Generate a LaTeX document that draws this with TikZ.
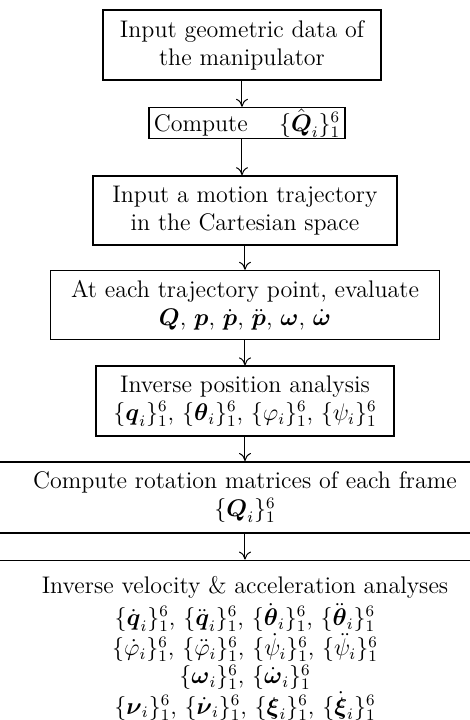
\documentclass[tikz,border=0pt]{standalone}
\usepackage{amsmath,amssymb}
\usepackage{tikz}
\usetikzlibrary{positioning,arrows.meta}

\begin{document}
\begin{tikzpicture}[
  node distance=12.5pt,
  box/.style={draw,line width=0.8pt,inner sep=4pt,font=\large,align=center,minimum height=35pt},
  arr/.style={-{Computer Modern Rightarrow[length=4pt,width=6pt]},line width=0.5pt}]
  \useasboundingbox (-121pt,22.5pt) rectangle (114pt,-337.5pt);
  \node[box,minimum width=139pt] (geom) {Input geometric data of\\the manipulator};
  \node[box,below=13pt of geom,xshift=2.5pt,minimum width=98pt,minimum height=15pt,inner xsep=2pt,inner ysep=0.5pt] (qhat)
    {Compute\hspace{1.3em}$\{\hat{\boldsymbol{Q}}_i\}_1^6$};
  \node[box,below=18pt of qhat.south,anchor=north,xshift=-1pt,minimum width=152pt,minimum height=34.5pt] (traj)
    {Input a motion trajectory\\in the Cartesian space};
  \node[box,below=12pt of traj,minimum width=194.5pt,minimum height=34.5pt] (eval)
    {At each trajectory point, evaluate\\
     $\boldsymbol{Q}$, $\boldsymbol{p}$, $\dot{\boldsymbol{p}}$, $\ddot{\boldsymbol{p}}$, $\boldsymbol{\omega}$, $\dot{\boldsymbol{\omega}}$};
  \node[box,below=of eval,minimum width=149pt] (ipa)
    {Inverse position analysis\\
     $\{\boldsymbol{q}_i\}_1^6$, $\{\boldsymbol{\theta}_i\}_1^6$, $\{\varphi_i\}_1^6$, $\{\psi_i\}_1^6$};
  \node[box,below=12pt of ipa,minimum width=250pt,minimum height=35.5pt] (rot)
    {Compute rotation matrices of each frame\\$\{\boldsymbol{Q}_i\}_1^6$};
  \node[box,below=13pt of rot,minimum width=250pt,inner ysep=8pt] (iva)
    {Inverse velocity \& acceleration analyses\\[2pt]
     $\{\dot{\boldsymbol{q}}_i\}_1^6$, $\{\ddot{\boldsymbol{q}}_i\}_1^6$, $\{\dot{\boldsymbol{\theta}}_i\}_1^6$, $\{\ddot{\boldsymbol{\theta}}_i\}_1^6$\\
     $\{\dot\varphi_i\}_1^6$, $\{\ddot\varphi_i\}_1^6$, $\{\dot\psi_i\}_1^6$, $\{\ddot\psi_i\}_1^6$\\
     $\{\boldsymbol{\omega}_i\}_1^6$, $\{\dot{\boldsymbol{\omega}}_i\}_1^6$\\
     $\{\boldsymbol{\nu}_i\}_1^6$, $\{\dot{\boldsymbol{\nu}}_i\}_1^6$, $\{\boldsymbol{\xi}_i\}_1^6$, $\{\dot{\boldsymbol{\xi}}_i\}_1^6$};
  \draw[arr] (geom.south) -- (geom.south |- qhat.north);
  \draw[arr] (geom.south |- qhat.south) -- (geom.south |- traj.north);
  \draw[arr] (traj.south) -- (eval.north);
  \draw[arr] (eval.south) -- (ipa.north);
  \draw[arr] (ipa.south) -- (rot.north);
  \draw[arr] (rot.south) -- (iva.north);
\end{tikzpicture}
\end{document}
